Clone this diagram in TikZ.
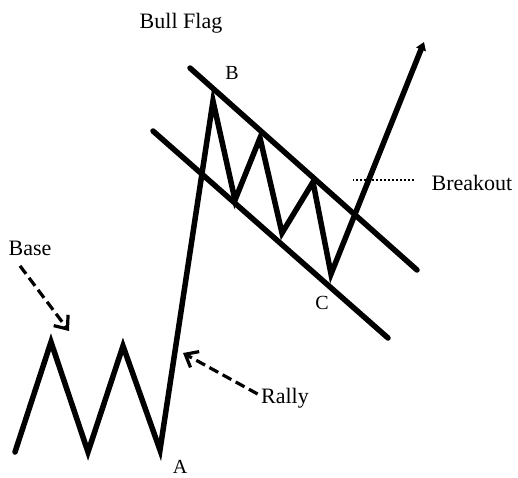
\documentclass[tikz,border=0pt]{standalone}
\usepackage{fontspec}
\setmainfont{Liberation Serif}
\usetikzlibrary{arrows.meta}
\begin{document}
\begin{tikzpicture}[x=1pt,y=-1pt,
  price/.style={line width=5.5pt,line cap=round,line join=miter},
  pointer/.style={line width=3.2pt,dash pattern=on 10pt off 5pt,-{Straight Barb[length=11pt,width=18pt]}},
  lbl/.style={font=\fontsize{22}{26}\selectfont},
  pt/.style={font=\fontsize{20}{24}\selectfont}]
\useasboundingbox (0,0) rectangle (518,477);

% the price path
\coordinate (s0) at (15,452);
\coordinate (s1) at (51,342);
\coordinate (s2) at (88,452);
\coordinate (s3) at (123,346);
\coordinate (a) at (160,450);
\coordinate (b) at (213,101);
\coordinate (t1) at (235,200);
\coordinate (p2) at (260,138);
\coordinate (t2) at (282,233);
\coordinate (p3) at (313,182);
\coordinate (c) at (331,274);
\coordinate (out) at (424,42);
\draw[price,-{Triangle[length=8pt,width=10pt]}] (s0) -- (s1) -- (s2) -- (s3) -- (a) -- (b) -- (t1) -- (p2) -- (t2) -- (p3) -- (c) -- (out);

% flag channel
\coordinate (u1) at (190,68);
\coordinate (u2) at (417,270);
\coordinate (l1) at (153,131);
\coordinate (l2) at (388,338);
\draw[price] (u1) -- (u2);
\draw[price] (l1) -- (l2);

\node[lbl] (title) at (181,23) {Bull Flag};
\node[pt] (lb) at (232,73) {B};
\node[pt] (lc) at (322,303) {C};
\node[pt] (la) at (180,467) {A};

\node[lbl] (base) at (30,248) {Base};
\coordinate (basetip) at (69,331);
\draw[pointer] ([xshift=-10pt,yshift=-7pt]base.south) -- (basetip);

\node[lbl] (rally) at (285,398) {Rally};
\coordinate (rallytip) at (183,353);
\draw[pointer] ([yshift=4pt]rally.west) -- (rallytip);

\node[lbl] (breakout) at (472,183) {Breakout};
\coordinate (brk) at (353,180);
\draw[line width=2pt,dash pattern=on 2pt off 2pt] ([xshift=-14pt,yshift=3pt]breakout.west) -- (brk);
\end{tikzpicture}
\end{document}
